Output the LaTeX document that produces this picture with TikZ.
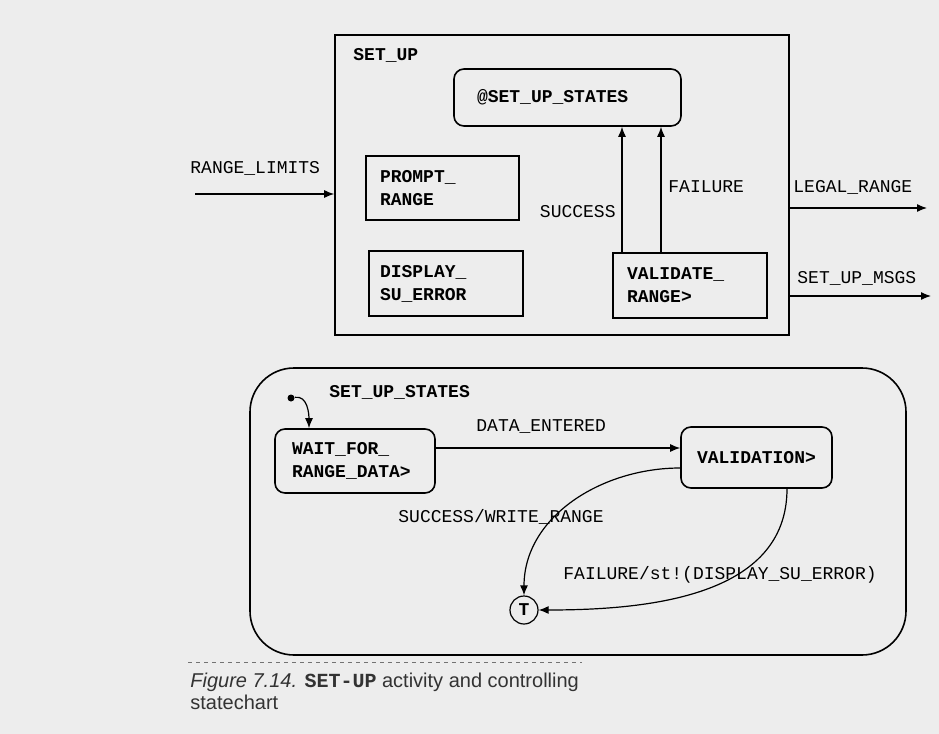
\documentclass[tikz,border=0pt]{standalone}
\usepackage{fontspec}
\setmainfont{Liberation Sans}
\setmonofont{Liberation Mono}
\usetikzlibrary{arrows.meta}

\begin{document}
\begin{tikzpicture}[x=0.5pt,y=-0.5pt,
        box/.style={draw, line width=0.8pt, align=left, inner ysep=0pt, font=\ttfamily\bfseries\fontsize{9}{11.5}\selectfont},
        state/.style={box, rounded corners=5pt},
        lbl/.style={anchor=west, inner sep=0pt, font=\ttfamily\fontsize{9}{11}\selectfont},
        boxname/.style={lbl, font=\ttfamily\bfseries\fontsize{9}{11}\selectfont},
        flow/.style={-{Latex[length=5pt,width=4pt]}, line width=0.6pt}]
                \fill[black!7] (0,0) rectangle (939,734);

                % SET_UP activity
                \node[draw, line width=0.8pt, minimum width=227pt, minimum height=150pt, inner sep=0pt] (setup) at (562,185) {};
                \node[boxname] (setuplbl) at (353,55) {SET\_UP};
                \node[state, minimum width=113.5pt, minimum height=28.5pt, text width=90.5pt, inner xsep=11.5pt] (sus) at (567.5,97.5) {@SET\_UP\_STATES};
                \node[box, minimum height=32pt, text width=62.5pt, inner xsep=7pt] (prompt) at (442.5,188) {PROMPT\_\\RANGE};
                \node[box, minimum height=32.5pt, text width=66pt, inner xsep=5.5pt] (display) at (446,283.5) {DISPLAY\_\\SU\_ERROR};
                \node[box, minimum height=32.5pt, text width=63pt, inner xsep=7pt] (vr) at (690,285.5) {VALIDATE\_\\RANGE>};

                \coordinate (rlin) at (195,194);
                \coordinate (lrout) at (927,208);
                \coordinate (smout) at (931,296);
                \coordinate (sx) at (622,0);
                \coordinate (fx) at (661,0);

                \draw[flow] (rlin) -- (rlin -| setup.west);
                \draw[flow] (setup.east |- lrout) -- (lrout);
                \draw[flow] (setup.east |- smout) -- (smout);
                \draw[flow] (vr.north -| sx) -- (sus.south -| sx);
                \draw[flow] (vr.north -| fx) -- (sus.south -| fx);

                \node[lbl] (rllbl) at (190,168) {RANGE\_LIMITS};
                \node[lbl] (lrlbl) at (793,187) {LEGAL\_RANGE};
                \node[lbl] (smlbl) at (797,278) {SET\_UP\_MSGS};
                \node[lbl, anchor=east] (sulbl) at (616,212) {SUCCESS};
                \node[lbl] (falbl) at (668,187) {FAILURE};

                % SET_UP_STATES statechart
                \node[draw, line width=0.8pt, rounded corners=22pt, minimum width=328pt, minimum height=143.5pt, inner sep=0pt] (states) at (578,511.5) {};
                \node[boxname] (stateslbl) at (329,392) {SET\_UP\_STATES};
                \node[state, minimum height=32pt, text width=63pt, inner xsep=8.5pt] (wait) at (355,461) {WAIT\_FOR\_\\RANGE\_DATA>};
                \node[state, align=center, minimum width=75.5pt, minimum height=30.5pt] (val) at (756.5,457.5) {VALIDATION>};
                \node[draw, circle, line width=0.6pt, minimum size=14pt, inner sep=0pt, font=\ttfamily\bfseries\fontsize{9}{11}\selectfont] (T) at (524,610) {T};
                \node[circle, fill, minimum size=3.5pt, inner sep=0pt] (init) at (291,398) {};

                \coordinate (ix) at (309,0);
                \coordinate (de) at (0,448);
                \coordinate (sv) at (0,468);
                \coordinate (fv) at (787,0);

                \draw[flow] (init) to[out=10,in=90] (wait.north -| ix);
                \draw[flow] (wait.east |- de) -- (val.west |- de);
                \draw[flow] (val.west |- sv) to[out=180,in=90] (T.north);
                \draw[flow] (val.south -| fv) to[out=-90,in=0] (T.east);

                \node[lbl] (delbl) at (476,427) {DATA\_ENTERED};
                \node[lbl] (swlbl) at (398,517) {SUCCESS/WRITE\_RANGE};
                \node[lbl] (fdlbl) at (563,575) {FAILURE/st!(DISPLAY\_SU\_ERROR)};

                % caption
                \draw[black!55, line width=0.4pt, dash pattern=on 2pt off 2pt] (188,662) -- (582,662);
                \node[anchor=north west, align=left, inner sep=0pt, text=black!80, font=\fontsize{10}{11}\selectfont] (cap) at (190,673) {\textit{Figure 7.14.} {\ttfamily\bfseries SET-UP} activity and controlling\\statechart};
\end{tikzpicture}
\end{document}
